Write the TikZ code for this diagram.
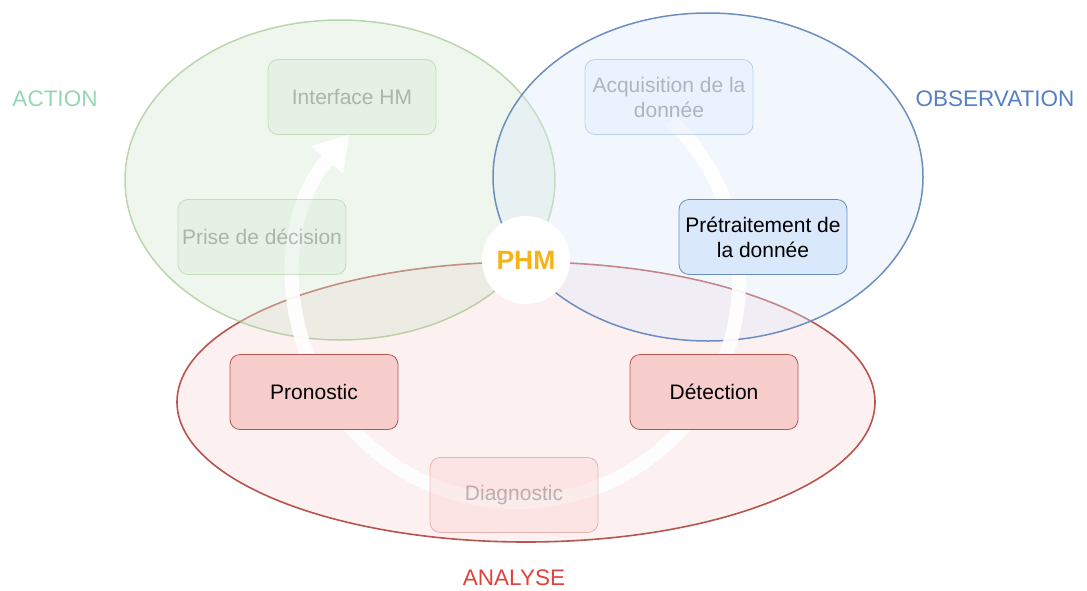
\documentclass[tikz,border=0pt]{standalone}
\usepackage{fontspec}
\setmainfont{Liberation Sans}
\usetikzlibrary{arrows.meta, calc}

\definecolor{actfill}{HTML}{D5E8D4}
\definecolor{actline}{HTML}{82B366}
\definecolor{obsfill}{HTML}{DAE8FC}
\definecolor{obsline}{HTML}{6C8EBF}
\definecolor{anafill}{HTML}{F8CECC}
\definecolor{analine}{HTML}{B85450}
\definecolor{acttext}{HTML}{98D5B2}
\definecolor{obstext}{HTML}{5580C5}
\definecolor{anatext}{HTML}{E0413B}
\definecolor{phmtext}{HTML}{F5B316}

\begin{document}
\begin{tikzpicture}[x=1pt, y=-1pt, align=center,
    box/.style={draw, rounded corners=10pt, line width=0.8pt, minimum width=168pt, minimum height=75pt, text=black, font=\fontsize{21}{25}\selectfont},
    faded/.style={opacity=0.35, text opacity=0.25},
    zone/.style={font=\fontsize{22.5}{27}\selectfont}]
      \useasboundingbox (0,0) rectangle (1087,590);
      %
      \draw[analine, line width=1.6pt, fill=anafill, fill opacity=0.3] (526,402) ellipse [x radius=349pt, y radius=140pt];
      \draw[actline, line width=1.5pt, draw opacity=0.5, fill=actfill, fill opacity=0.4] (340,180) ellipse [x radius=215pt, y radius=160pt];
      \draw[obsline, line width=1.5pt, fill=obsfill, fill opacity=0.35] (708,177) ellipse [x radius=215pt, y radius=164pt];
      %
      \coordinate (ring) at (517,280);
      \coordinate (ringstart) at ($(ring)+(46:222pt)$);
      \draw[white, line width=14pt, opacity=0.9, -{Triangle[length=34pt, width=40pt]}] (ringstart) arc[start angle=46, end angle=-221, radius=222pt];
      %
      \node[draw=none, fill=white, circle, minimum size=88pt, text=phmtext, font=\bfseries\fontsize{26.5}{30}\selectfont] (phm) at (526,260) {PHM};
      %
      \node[box, faded, fill=actfill, draw=actline] (ihm) at (352,97) {Interface HM};
      \node[box, faded, fill=actfill, draw=actline] (decision) at (262,237) {Prise de décision};
      \node[box, faded, fill=obsfill, draw=obsline] (acquisition) at (669,97) {Acquisition de la\\donnée};
      \node[box, fill=obsfill, draw=obsline] (pretraitement) at (763,237) {Prétraitement de\\la donnée};
      \node[box, fill=anafill, draw=analine] (detection) at (714,392) {Détection};
      \node[box, faded, fill=anafill, draw=analine] (diagnostic) at (514,495) {Diagnostic};
      \node[box, fill=anafill, draw=analine] (pronostic) at (314,392) {Pronostic};
      %
      \node[zone, text=acttext] (action) at (55,99) {ACTION};
      \node[zone, text=obstext, fill=white, inner sep=4pt] (observation) at (995,99) {OBSERVATION};
      \node[zone, text=anatext] (analyse) at (514,578) {ANALYSE};
    \end{tikzpicture}
\end{document}
